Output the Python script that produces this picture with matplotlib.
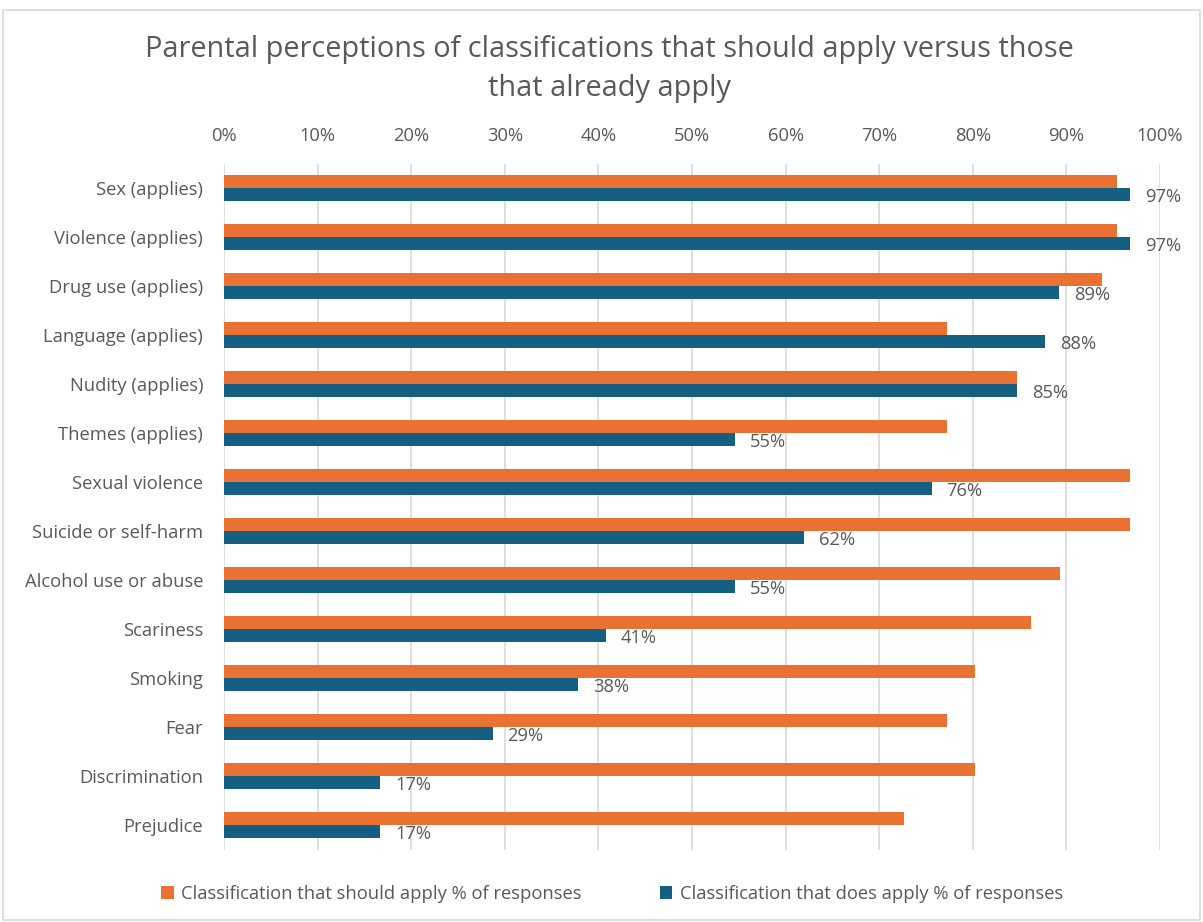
import matplotlib
matplotlib.use("Agg")
import matplotlib.pyplot as plt
import numpy as np
from matplotlib.patches import Rectangle

categories = ["Sex (applies)", "Violence (applies)", "Drug use (applies)", "Language (applies)",
              "Nudity (applies)", "Themes (applies)", "Sexual violence", "Suicide or self-harm",
              "Alcohol use or abuse", "Scariness", "Smoking", "Fear", "Discrimination", "Prejudice"]
should_apply = [95.4, 95.4, 93.8, 77.2, 84.7, 77.2, 96.8, 96.8, 89.3, 86.2, 80.2, 77.2, 80.2, 72.6]
does_apply = [96.8, 96.8, 89.2, 87.7, 84.7, 54.6, 75.6, 62.0, 54.6, 40.8, 37.8, 28.7, 16.7, 16.7]
xticks = [0, 10, 20, 30, 40, 50, 60, 70, 80, 90, 100]

plt.rcParams['font.family'] = ['Open Sans', 'DejaVu Sans']
TXT = '#595959'
ORANGE = '#E97132'
BLUE = '#156082'

W, H = 1203, 922
fig = plt.figure(figsize=(W / 100, H / 100), dpi=100)
ax = fig.add_axes([224 / W, 1 - 849.5 / H, (1160 - 224) / W, (849.5 - 163.5) / H])

y = np.arange(len(categories))
bh = 0.27
ax.barh(y - bh / 2, should_apply, height=bh, color=ORANGE, label='Classification that should apply % of responses', zorder=3)
ax.barh(y + bh / 2, does_apply, height=bh, color=BLUE, label='Classification that does apply % of responses', zorder=3)

for yi, v in zip(y, does_apply):
    ax.text(v + 1.6, yi + bh / 2 + 0.05, f"{round(v)}%", va='center', ha='left', fontsize=13.2, color=TXT, zorder=4)

ax.set_ylim(len(categories) - 0.5, -0.5)
ax.set_xlim(0, 100)
ax.set_yticks(y)
ax.set_yticklabels(categories, fontsize=13.2, color=TXT)
ax.set_xticks(xticks)
ax.set_xticklabels([f"{t}%" for t in xticks], fontsize=13.2, color=TXT)
ax.xaxis.tick_top()
ax.tick_params(axis='both', length=0)
ax.tick_params(axis='x', pad=13)
ax.tick_params(axis='y', pad=15)
ax.grid(axis='x', color='#d9d9d9', linewidth=1.2, zorder=0)
for s in ax.spines.values():
    s.set_visible(False)

fig.text(609 / W, 1 - 69 / H, "Parental perceptions of classifications that should apply versus those\nthat already apply",
         ha='center', va='center', fontsize=20.8, color=TXT, linespacing=1.45)

leg = fig.legend(loc='center', bbox_to_anchor=(612 / W, 1 - 894 / H), ncol=2, frameon=False,
                 fontsize=13.2, handlelength=0.7, handleheight=0.7, columnspacing=4.25, handletextpad=0.4)
for t in leg.get_texts():
    t.set_color(TXT)

fig.patches.append(Rectangle((3 / W, 0.002), 1 - 6 / W, 1 - 12 / H, transform=fig.transFigure,
                             fill=False, edgecolor='#d9d9d9', linewidth=1.2))

fig.savefig("out.png", dpi=100)
